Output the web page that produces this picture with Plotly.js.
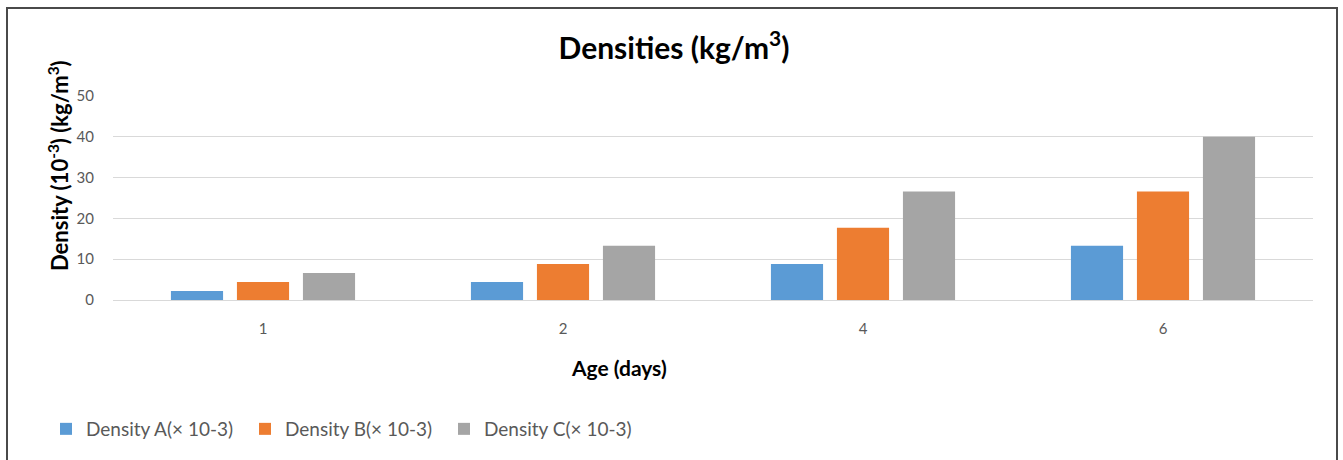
<!DOCTYPE html>
<html>
<head>
<meta charset="utf-8">
<script src="https://cdn.plot.ly/plotly-3.0.1.min.js"></script>
<style>
  html, body { margin: 0; padding: 0; background: #fff; }
  #wrap { position: relative; width: 1343px; height: 460px; overflow: hidden; }
  #chart { position: absolute; left: 0; top: 0; width: 1343px; height: 460px; }
  #frame { position: absolute; left: 6px; top: 7px; width: 1332px; height: 470px;
           border: 2px solid #4a4a4a; pointer-events: none; box-sizing: border-box; }
</style>
</head>
<body>
<div id="wrap">
  <div id="chart"></div>
  <div id="frame"></div>
</div>
<script>
const categories = ['1', '2', '4', '6'];
const seriesNames = ['Density A(× 10-3)', 'Density B(× 10-3)', 'Density C(× 10-3)'];
const densityA = [2.2, 4.4, 8.8, 13.3];
const densityB = [4.4, 8.8, 17.7, 26.6];
const densityC = [6.6, 13.3, 26.6, 40.0];
const colors = ['#5B9BD5', '#ED7D31', '#A5A5A5'];
const yTicks = [0, 10, 20, 30, 40, 50];

const font = 'Lato, "Open Sans", sans-serif';
const seriesValues = [densityA, densityB, densityC];

const traces = seriesValues.map((vals, i) => ({
  type: 'bar',
  x: categories,
  y: vals,
  name: seriesNames[i],
  marker: { color: colors[i], line: { color: colors[i], width: 0 } },
  hoverinfo: 'x+y+name'
}));

const W = 1343, H = 460;
const m = { l: 113, r: 30, t: 96, b: 160 };
const pw = W - m.l - m.r, ph = H - m.t - m.b;
const px = x => (x - m.l) / pw;
const py = y => (H - m.b - y) / ph;

const layout = {
  width: W, height: H,
  margin: m,
  paper_bgcolor: '#ffffff',
  plot_bgcolor: '#ffffff',
  barmode: 'group',
  bargap: 0.34,
  bargroupgap: 0.21,
  font: { family: font, color: '#595959', size: 15 },
  title: {
    text: 'Densities (kg/m<sup>3</sup>)',
    font: { family: font, size: 30, color: '#000000', weight: 'bold' },
    x: 674 / W, xref: 'container', xanchor: 'center',
    y: 1 - 48 / H, yref: 'container', yanchor: 'middle'
  },
  xaxis: {
    type: 'category',
    categoryorder: 'array',
    categoryarray: categories,
    showgrid: false,
    showline: true,
    linecolor: '#d9d9d9',
    linewidth: 1,
    ticks: '',
    ticklabelstandoff: 15,
    tickfont: { family: font, size: 15, color: '#595959' },
    fixedrange: true
  },
  yaxis: {
    range: [0, 50],
    tickvals: yTicks,
    ticktext: yTicks.map(String),
    showgrid: true,
    gridcolor: '#d9d9d9',
    gridwidth: 1,
    zeroline: false,
    showline: false,
    ticks: '',
    ticklabelstandoff: 18,
    tickfont: { family: font, size: 15, color: '#595959' },
    fixedrange: true
  },
  legend: {
    orientation: 'h',
    x: px(46), xanchor: 'left',
    y: py(410), yanchor: 'top',
    font: { family: font, size: 19, color: '#595959' },
    entrywidth: 154,
    entrywidthmode: 'pixels',
    itemwidth: 30,
    tracegroupgap: 0,
    bgcolor: 'rgba(0,0,0,0)'
  },
  annotations: [
    {
      text: 'Age (days)',
      xref: 'paper', yref: 'paper',
      x: px(619), y: py(367),
      xanchor: 'center', yanchor: 'middle',
      showarrow: false,
      font: { family: font, size: 21, color: '#000000', weight: 'bold' }
    },
    {
      text: 'Density (10<sup>-3</sup>) (kg/m<sup>3</sup>)',
      xref: 'paper', yref: 'paper',
      x: px(58), y: py(166),
      xanchor: 'center', yanchor: 'middle',
      textangle: -90,
      showarrow: false,
      font: { family: font, size: 22, color: '#000000', weight: 'bold' }
    }
  ],
  showlegend: true
};

Plotly.newPlot('chart', traces, layout, { displayModeBar: false, staticPlot: true });
</script>
</body>
</html>
